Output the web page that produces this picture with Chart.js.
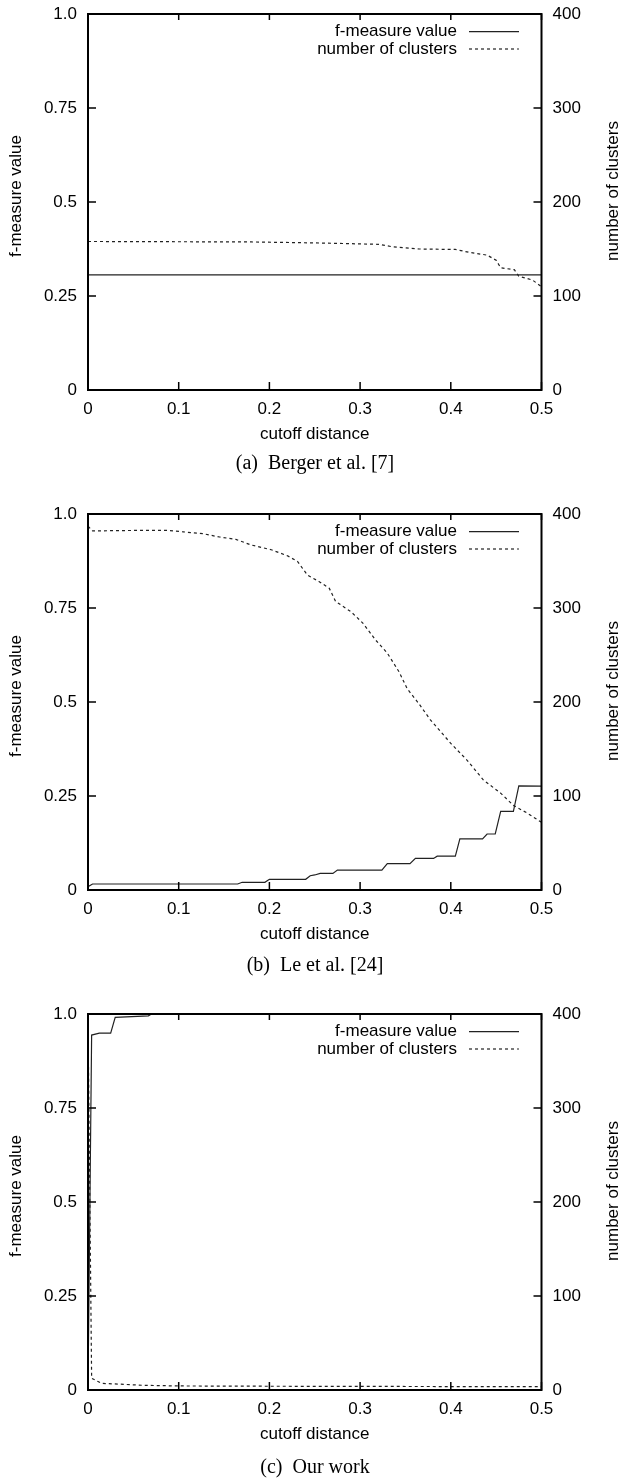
<!DOCTYPE html>
<html>
<head>
<meta charset="utf-8">
<script src="https://cdn.jsdelivr.net/npm/chart.js@4.4.0/dist/chart.umd.min.js"></script>
<style>
body { margin: 0; background: #fff; }
canvas { display: block; }
</style>
</head>
<body>
<canvas id="chartA" width="625" height="500"></canvas>
<canvas id="chartB" width="625" height="500"></canvas>
<canvas id="chartC" width="625" height="483"></canvas>
<script>
// axes (shared by the three panels)
var xTicks = [0, 0.1, 0.2, 0.3, 0.4, 0.5];
var xTickLabels = ['0', '0.1', '0.2', '0.3', '0.4', '0.5'];
var fTicks = [0, 0.25, 0.5, 0.75, 1];
var fTickLabels = ['0', '0.25', '0.5', '0.75', '1.0'];
var nTicks = [0, 100, 200, 300, 400];
var nTickLabels = ['0', '100', '200', '300', '400'];

var seriesNames = ['f-measure value', 'number of clusters'];
var xTitle = 'cutoff distance';
var captions = ['(a)\u00a0 Berger et al. [7]', '(b)\u00a0 Le et al. [24]', '(c)\u00a0 Our work'];

// (a) Berger et al.
var bergerFX = [0, 0.5];
var bergerF = [0.306, 0.306];
var bergerNX = [0, 0.18, 0.25, 0.32, 0.335, 0.365, 0.405, 0.42, 0.44, 0.45, 0.455, 0.47, 0.475, 0.49, 0.5];
var bergerN = [158, 157.5, 156.5, 155, 152.5, 150, 149.5, 146.5, 143.5, 138, 130, 128, 121, 117, 110];

// (b) Le et al.
var leFX = [0, 0.005, 0.165, 0.17, 0.195, 0.2, 0.24, 0.245, 0.25, 0.256, 0.27, 0.275, 0.324, 0.33, 0.355, 0.361, 0.381, 0.385, 0.405, 0.41, 0.435, 0.44, 0.449, 0.455, 0.469, 0.475, 0.5];
var leF = [0.009, 0.016, 0.016, 0.0205, 0.0205, 0.0285, 0.0285, 0.038, 0.04, 0.044, 0.044, 0.053, 0.053, 0.07, 0.07, 0.084, 0.084, 0.09, 0.09, 0.136, 0.136, 0.149, 0.149, 0.209, 0.209, 0.277, 0.276];
var leNX = [0, 0.005, 0.05, 0.088, 0.105, 0.127, 0.145, 0.163, 0.18, 0.202, 0.22, 0.231, 0.242, 0.255, 0.266, 0.273, 0.29, 0.303, 0.317, 0.33, 0.343, 0.352, 0.365, 0.3775, 0.4, 0.418, 0.436, 0.455, 0.469, 0.484, 0.5];
var leN = [387, 382, 382.5, 382.5, 381, 379, 375.5, 373, 367, 362, 355.5, 349.5, 335, 328, 321, 307, 296, 284, 266, 252, 232, 214, 198, 181, 156, 138, 117, 103, 90, 82, 72];

// (c) our work
var oursFX = [0, 0.004, 0.0125, 0.025, 0.03, 0.0666, 0.07, 0.5];
var oursF = [0, 0.944, 0.949, 0.949, 0.991, 0.995, 1.0, 1.0];
var oursNX = [0, 0.004, 0.011, 0.015, 0.04, 0.06, 0.1, 0.2, 0.5];
var oursN = [395, 12.5, 9, 7, 6, 5, 4.3, 4, 3.5];

Chart.defaults.font.family = '"Liberation Sans", Arial, sans-serif';
Chart.defaults.font.size = 17;
Chart.defaults.color = '#000';

function pts(xs, ys) {
    return xs.map((x, i) => ({ x: x, y: ys[i] }));
}

// frame, inward ticks, titles, key and caption, drawn gnuplot style
const gnuLook = {
    id: 'gnuLook',
    afterDraw(chart, args, opts) {
        var c = chart.ctx;
        var a = chart.chartArea;
        var sx = chart.scales.x, sy = chart.scales.y, sy2 = chart.scales.y2;
        c.save();
        c.strokeStyle = '#000';
        c.lineWidth = 1.5;
        c.setLineDash([]);
        c.beginPath();
        xTicks.forEach(v => {
            var px = sx.getPixelForValue(v);
            c.moveTo(px, a.bottom); c.lineTo(px, a.bottom - 8);
            c.moveTo(px, a.top); c.lineTo(px, a.top + 6);
        });
        fTicks.forEach(v => {
            var py = sy.getPixelForValue(v);
            c.moveTo(a.left, py); c.lineTo(a.left + 8, py);
        });
        nTicks.forEach(v => {
            var py = sy2.getPixelForValue(v);
            c.moveTo(a.right, py); c.lineTo(a.right - 8, py);
        });
        c.stroke();
        c.lineWidth = 2;
        c.strokeRect(a.left, a.top, a.right - a.left, a.bottom - a.top);

        // axis titles
        c.fillStyle = '#000';
        c.font = '17px "Liberation Sans", Arial, sans-serif';
        c.textAlign = 'center';
        c.textBaseline = 'middle';
        c.fillText(xTitle, (a.left + a.right) / 2, a.bottom + 44);
        c.save();
        c.translate(16.5, 196);
        c.rotate(-Math.PI / 2);
        c.fillText(seriesNames[0], 0, 0);
        c.restore();
        c.save();
        c.translate(613, 191);
        c.rotate(-Math.PI / 2);
        c.fillText(seriesNames[1], 0, 0);
        c.restore();

        // key, top right inside the plot
        c.textAlign = 'right';
        chart.data.datasets.forEach((ds, i) => {
            var ky = a.top + 17.7 + i * 17.3;
            c.fillText(ds.label, 457, ky);
            c.save();
            c.lineWidth = 1.2;
            c.strokeStyle = ds.borderColor;
            c.setLineDash(ds.borderDash || []);
            c.beginPath();
            c.moveTo(469, ky);
            c.lineTo(519, ky);
            c.stroke();
            c.restore();
        });

        // caption
        c.font = '20px "Liberation Serif", "Times New Roman", serif';
        c.textAlign = 'center';
        c.fillText(opts.caption, 315, opts.captionY);
        c.restore();
    }
};

// fixed axis boxes so the plot area lands where gnuplot put it
function fixVertical(w) {
    return s => { s.width = w; s.paddingTop = 0; s.paddingBottom = 0; };
}

function makeChart(id, fx, f, nx, n, caption, captionY) {
    var el = document.getElementById(id);
    var xHeight = el.height - 390;
    return new Chart(el, {
        type: 'line',
        data: {
            datasets: [{
                label: seriesNames[0],
                data: pts(fx, f),
                yAxisID: 'y',
                borderColor: '#222',
                borderWidth: 1.2,
                pointRadius: 0,
                tension: 0
            }, {
                label: seriesNames[1],
                data: pts(nx, n),
                yAxisID: 'y2',
                borderColor: '#222',
                borderWidth: 1.2,
                borderDash: [3, 3],
                pointRadius: 0,
                tension: 0
            }]
        },
        options: {
            responsive: false,
            animation: false,
            layout: { padding: { top: 14, left: 0, right: 0, bottom: 0 } },
            plugins: {
                legend: { display: false },
                tooltip: { enabled: false },
                gnuLook: { caption: caption, captionY: captionY }
            },
            scales: {
                x: {
                    type: 'linear',
                    min: 0,
                    max: 0.5,
                    grid: { display: false, drawTicks: false },
                    border: { display: false },
                    afterBuildTicks: s => { s.ticks = xTicks.map(v => ({ value: v })); },
                    afterFit: s => { s.height = xHeight; },
                    ticks: {
                        autoSkip: false,
                        maxRotation: 0,
                        padding: 9,
                        callback: (v, i) => xTickLabels[i]
                    }
                },
                y: {
                    position: 'left',
                    min: 0,
                    max: 1,
                    grid: { display: false, drawTicks: false },
                    border: { display: false },
                    afterBuildTicks: s => { s.ticks = fTicks.map(v => ({ value: v })); },
                    afterFit: fixVertical(88),
                    ticks: { autoSkip: false, padding: 11, callback: (v, i) => fTickLabels[i] }
                },
                y2: {
                    position: 'right',
                    min: 0,
                    max: 400,
                    grid: { display: false, drawTicks: false },
                    border: { display: false },
                    afterBuildTicks: s => { s.ticks = nTicks.map(v => ({ value: v })); },
                    afterFit: fixVertical(83.5),
                    ticks: { autoSkip: false, padding: 11, callback: (v, i) => nTickLabels[i] }
                }
            }
        },
        plugins: [gnuLook]
    });
}

makeChart('chartA', bergerFX, bergerF, bergerNX, bergerN, captions[0], 464);
makeChart('chartB', leFX, leF, leNX, leN, captions[1], 466);
makeChart('chartC', oursFX, oursF, oursNX, oursN, captions[2], 468);
</script>
</body>
</html>
